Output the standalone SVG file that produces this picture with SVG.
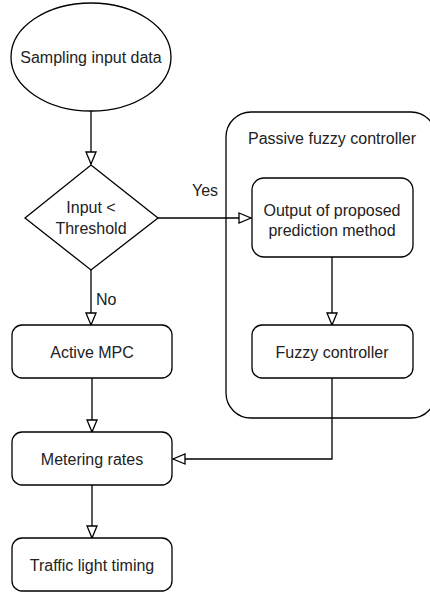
<svg xmlns="http://www.w3.org/2000/svg" width="430" height="593" viewBox="0 0 430 593">
<style>
.s{fill:#fff;stroke:#000;stroke-width:1.3}
.c{fill:none;stroke:#000;stroke-width:1.3}
text{font-family:"Liberation Sans",Arial,sans-serif;font-size:16px;fill:#222;text-anchor:middle}
.l{text-anchor:start}
</style>
<defs>
<marker id="a" viewBox="0 0 14 12" refX="13" refY="6" markerWidth="14" markerHeight="12" markerUnits="userSpaceOnUse" orient="auto">
<path d="M1,1 L13,6 L1,11 Z" fill="#fff" stroke="#000" stroke-width="1.3"/>
</marker>
</defs>
<rect width="430" height="593" fill="#fff"/>
<g id="container">
<rect class="s" x="226" y="112" width="210" height="306" rx="25" ry="25"/>
<text x="332" y="144">Passive fuzzy controller</text>
</g>
<g id="connectors">
<path class="c" d="M91,111 V164" marker-end="url(#a)"/>
<path class="c" d="M158,218 H251" marker-end="url(#a)"/>
<path class="c" d="M91,270 V325" marker-end="url(#a)"/>
<path class="c" d="M332,257 V325" marker-end="url(#a)"/>
<path class="c" d="M92,378 V432" marker-end="url(#a)"/>
<path class="c" d="M332,378 V459 H173" marker-end="url(#a)"/>
<path class="c" d="M92,485 V538" marker-end="url(#a)"/>
<text class="l" x="192" y="196">Yes</text>
<text class="l" x="96" y="305">No</text>
</g>
<g id="start">
<ellipse class="s" cx="91" cy="57" rx="80" ry="54"/>
<text x="91" y="63">Sampling input data</text>
</g>
<g id="decision">
<path class="s" d="M91,165 L158,218 L91,270 L25,218 Z"/>
<text x="91" y="213">Input &lt;</text>
<text x="91" y="234">Threshold</text>
</g>
<g id="output">
<rect class="s" x="252" y="178" width="161" height="79" rx="12"/>
<text x="332" y="216">Output of proposed</text>
<text x="332" y="236">prediction method</text>
</g>
<g id="fuzzy">
<rect class="s" x="252" y="325" width="161" height="53" rx="10"/>
<text x="332" y="358">Fuzzy controller</text>
</g>
<g id="mpc">
<rect class="s" x="12" y="325" width="160" height="53" rx="10"/>
<text x="92" y="358">Active MPC</text>
</g>
<g id="metering">
<rect class="s" x="12" y="432" width="160" height="53" rx="10"/>
<text x="92" y="465">Metering rates</text>
</g>
<g id="traffic">
<rect class="s" x="12" y="538" width="160" height="53" rx="10"/>
<text x="92" y="571">Traffic light timing</text>
</g>
</svg>
